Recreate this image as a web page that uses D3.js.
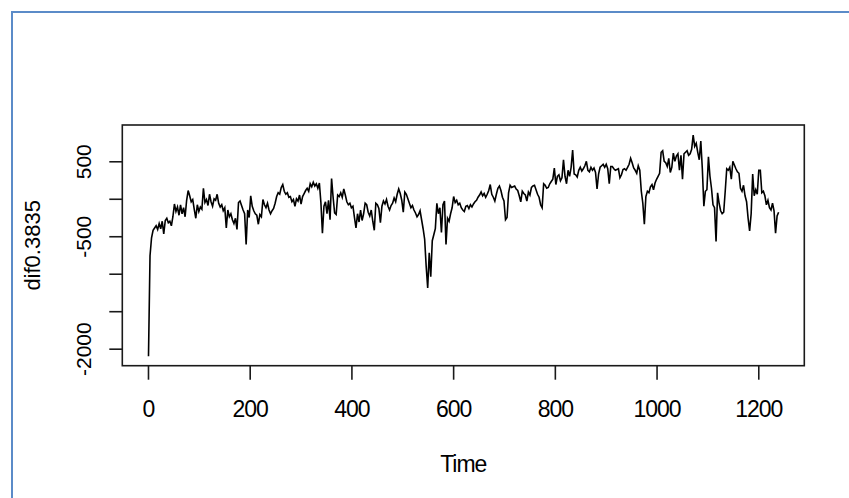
<!DOCTYPE html>
<html>
<head>
<meta charset="utf-8">
<script src="https://cdn.jsdelivr.net/npm/d3@7"></script>
<style>
  html, body { margin: 0; padding: 0; background: #fff; }
  svg { display: block; }
  text { font-family: "Liberation Sans", Arial, sans-serif; fill: #000; }
</style>
</head>
<body>
<svg id="chart" width="849" height="498"></svg>
<script>
// ---- data (time series; time starts at 1, one value every 3 steps) ----
const timeStart = 1;
const timeStep = 3;
const values = [
  -2100, -760, -520, -420, -390, -360, -410, -330, -400, -300,
  -470, -290, -260, -320, -300, -360, -240, -70, -170, -110,
  -220, -80, -200, -120, -240, -20, 110, 40, -40, -10,
  -140, -260, -80, -170, -110, -140, 140, -50, -10, -90,
  60, -40, -100, 0, -20, 60, -60, -110, -80, -160,
  -120, -390, -150, -240, -200, -280, -330, -260, -410, -50,
  -30, -90, -150, -200, -610, -150, -250, 40, -100, -160,
  -200, -220, -340, -210, -240, -10, -80, -120, -60, -150,
  -200, -160, -130, -60, 30, 80, 60, 150, 190, 100,
  60, 80, 20, 30, -40, -10, -100, 0, -30, 50,
  -70, 30, 70, 110, 140, 100, 200, 160, 220, 170,
  200, 140, 210, -50, -460, -100, -40, -200, -20, -280,
  270, 20, -190, -210, 50, 30, 80, 20, 130, 50,
  -40, -80, -60, -120, -100, -250, -390, -200, -310, -150,
  -290, -200, -60, -80, -180, -230, -150, -300, -420, -60,
  -80, -130, -320, -100, -30, -70, -10, -100, -150, -90,
  -60, 10, -40, 60, 130, 70, -20, -180, 90, 60,
  0, -60, -120, -90, -150, -190, -240, -210, -160, -280,
  -400, -540, -900, -1190, -720, -1040, -560, -480, -400, -60,
  -200, -120, -450, -80, -30, -610, -260, -300, -200, -120,
  30, -50, -20, -80, -60, -120, -150, -170, -100, -90,
  -130, -80, -110, -70, -40, -20, 20, 50, 90, 40,
  70, 20, 60, 110, 190, 60, 20, -30, 60, 140,
  170, 110, 20, -30, -280, -250, 80, 180, 150, 160,
  170, 130, 110, 40, -40, 100, 70, 50, -30, 90,
  50, 150, 170, 180, 120, 60, 20, -80, -120, 200,
  180, 140, 150, 200, 230, 260, 410, 190, 300, 320,
  240, 280, 520, 300, 200, 380, 300, 420, 650, 330,
  320, 290, 380, 420, 370, 400, 440, 500, 380, 360,
  420, 380, 410, 350, 130, 330, 420, 440, 460, 420,
  460, 400, 200, 430, 430, 400, 380, 390, 400, 280,
  320, 390, 400, 380, 420, 460, 540, 480, 410, 380,
  340, 440, 380, 100, -60, -340, 30, 100, 80, 160,
  190, 120, 210, 260, 300, 340, 620, 640, 500, 480,
  430, 540, 350, 420, 610, 500, 570, 600, 380, 580,
  260, 600, 620, 640, 580, 600, 660, 850, 700, 740,
  620, 520, 770, 400, -100, 100, 120, 560, 300, 140,
  -80, -120, -570, 80, -60, -160, -200, -180, 100, 400,
  380, 420, 260, 500, 450, 400, 360, 340, 140, 100,
  180, 40, -40, -260, -430, -200, 330, 40, 120, 60,
  380, 380, 80, 100, 40, -80, -20, -120, -150, -60,
  -160, -460, -230, -180
];
const xTicks = [0, 200, 400, 600, 800, 1000, 1200];
const yTicks = [-2000, -1500, -1000, -500, 0, 500];
const yTickLabels = [500, -500, -2000];   // labels R kept after overlap removal
const xTitle = "Time";
const yTitle = "dif0.3835";

// ---- layout ----
const svg = d3.select("#chart");
const box = { left: 122.3, right: 804.3, top: 125, bottom: 365.7 };

const series = values.map((v, i) => ({ t: timeStart + i * timeStep, v }));

const x = d3.scaleLinear().domain([-50.5, 1290.5]).range([box.left, box.right]);
const y = d3.scaleLinear().domain([-2227, 984]).range([box.bottom, box.top]);

// window frame (blue border of the screenshot)
svg.append("path")
  .attr("d", "M12,498 L12,12 L849,12")
  .attr("fill", "none")
  .attr("stroke", "#5b8bc8")
  .attr("stroke-width", 2);

// series line
const line = d3.line().x(d => x(d.t)).y(d => y(d.v));
svg.append("path")
  .datum(series)
  .attr("d", line)
  .attr("fill", "none")
  .attr("stroke", "#000")
  .attr("stroke-width", 1.6)
  .attr("stroke-linejoin", "miter");

// plot box
svg.append("rect")
  .attr("x", box.left).attr("y", box.top)
  .attr("width", box.right - box.left).attr("height", box.bottom - box.top)
  .attr("fill", "none").attr("stroke", "#1a1a1a").attr("stroke-width", 1.6);

// x axis (R style: ticks below box, labels further below)
const xAxis = svg.append("g").attr("transform", `translate(0,${box.bottom})`)
  .call(d3.axisBottom(x).tickValues(xTicks).tickSize(14).tickSizeOuter(0)
    .tickPadding(21).tickFormat(d => String(d)));
xAxis.select(".domain").attr("stroke", "none");
xAxis.selectAll(".tick line").attr("stroke", "#1a1a1a").attr("stroke-width", 1.6);
xAxis.selectAll(".tick text")
  .attr("font-size", 23).attr("letter-spacing", -1)
  .attr("font-family", "Liberation Sans, Arial, sans-serif")
  .attr("fill", "#000");

// y axis
const yAxis = svg.append("g").attr("transform", `translate(${box.left},0)`)
  .call(d3.axisLeft(y).tickValues(yTicks).tickSize(13).tickSizeOuter(0)
    .tickFormat(d => yTickLabels.includes(d) ? String(d) : ""));
yAxis.select(".domain").attr("stroke", "none");
yAxis.selectAll(".tick line").attr("stroke", "#1a1a1a").attr("stroke-width", 1.6);
yAxis.selectAll(".tick text")
  .attr("font-size", 21)
  .attr("font-family", "Liberation Sans, Arial, sans-serif")
  .attr("fill", "#000")
  .attr("text-anchor", "middle")
  .attr("dy", null)
  .attr("x", null)
  .attr("transform", `translate(${90.7 - box.left},0) rotate(-90)`);

// axis titles
svg.append("text")
  .attr("x", (box.left + box.right) / 2).attr("y", 472)
  .attr("text-anchor", "middle")
  .attr("font-size", 23).attr("letter-spacing", -1)
  .text(xTitle);

svg.append("text")
  .attr("transform", `translate(39.5,${(box.top + box.bottom) / 2}) rotate(-90)`)
  .attr("text-anchor", "middle")
  .attr("font-size", 22)
  .text(yTitle);
</script>
</body>
</html>
